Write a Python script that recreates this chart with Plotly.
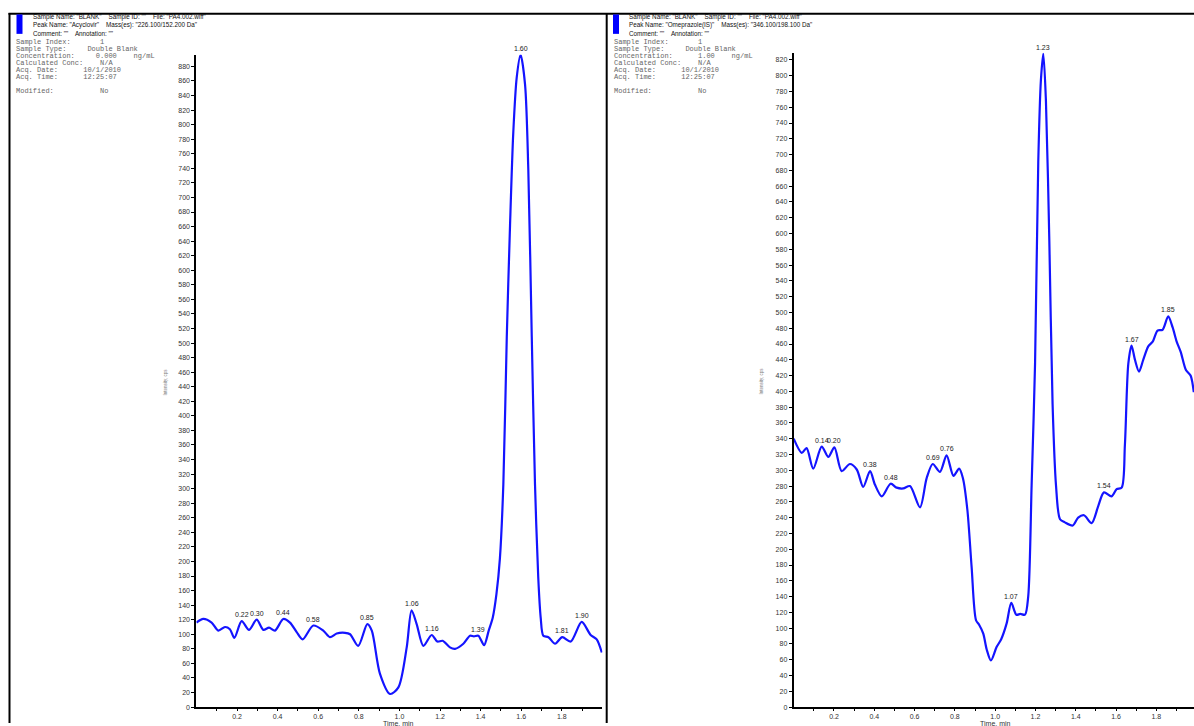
import plotly.graph_objects as go

W, H = 1194, 726

# ---------------- data ----------------
# Left panel: Acyclovir 226.100/152.200 Da
acy_time = [0.0, 0.034, 0.075, 0.108, 0.141, 0.165, 0.187, 0.223, 0.259, 0.297, 0.33, 0.358,
            0.387, 0.428, 0.461, 0.494, 0.523, 0.576, 0.625, 0.658, 0.691, 0.732, 0.757, 0.797,
            0.842, 0.864, 0.904, 0.954, 0.995, 1.036, 1.06, 1.085, 1.118, 1.159, 1.187, 1.213,
            1.249, 1.274, 1.315, 1.348, 1.367, 1.389, 1.417, 1.44, 1.46, 1.478, 1.495, 1.512,
            1.529, 1.545, 1.561, 1.578, 1.597, 1.619, 1.635, 1.652, 1.668, 1.684, 1.696, 1.709,
            1.734, 1.767, 1.802, 1.844, 1.898, 1.942, 1.972, 1.997]
acy_int = [116, 121, 116, 105, 110, 107, 95, 118, 106, 120, 106, 109,
           105, 121, 116, 103, 93, 112, 105, 96, 101, 102, 100, 84,
           114, 105, 46, 18, 27, 82, 133, 114, 84, 99, 90, 91,
           82, 80, 87, 98, 97, 98, 85, 105, 123, 155, 204, 306,
           509, 662, 789, 865, 896, 855, 738, 509, 306, 178, 123, 98,
           96, 87, 96, 90, 117, 99, 93, 75]
acy_peak_t = [0.223, 0.297, 0.428, 0.576, 0.842, 1.06, 1.159, 1.389, 1.597, 1.802, 1.898]
acy_peak_i = [118, 120, 121, 112, 114, 133, 99, 98, 896, 96, 117]
acy_peak_lbl = ["0.22", "0.30", "0.44", "0.58", "0.85", "1.06", "1.16", "1.39", "1.60", "1.81", "1.90"]

# Right panel: Omeprazole(IS) 346.100/198.100 Da
ome_time = [0.0, 0.04, 0.064, 0.097, 0.139, 0.172, 0.202, 0.238, 0.279, 0.313, 0.345, 0.379,
            0.403, 0.437, 0.481, 0.511, 0.544, 0.577, 0.627, 0.66, 0.69, 0.726, 0.759, 0.793,
            0.821, 0.84, 0.862, 0.883, 0.905, 0.921, 0.941, 0.958, 0.979, 1.007, 1.03, 1.057,
            1.08, 1.105, 1.125, 1.148, 1.164, 1.181, 1.198, 1.214, 1.227, 1.239, 1.252, 1.269,
            1.285, 1.302, 1.322, 1.346, 1.385, 1.412, 1.441, 1.479, 1.512, 1.54, 1.578, 1.603,
            1.628, 1.644, 1.661, 1.677, 1.694, 1.714, 1.735, 1.76, 1.782, 1.806, 1.831, 1.859,
            1.881, 1.901, 1.921, 1.947, 1.97, 1.986]
ome_int = [340, 322, 328, 302, 330, 317, 329, 299, 308, 301, 279, 299,
           282, 267, 283, 278, 277, 280, 253, 290, 308, 298, 319, 293,
           302, 290, 250, 178, 110, 104, 93, 73, 59, 76, 86, 106,
           132, 117, 118, 117, 140, 281, 435, 691, 794, 828, 768, 589,
           384, 281, 238, 234, 230, 240, 243, 233, 255, 272, 267, 276,
           278, 332, 435, 458, 440, 425, 440, 457, 463, 477, 478, 495,
           481, 463, 450, 427, 420, 399]
ome_peak_t = [0.139, 0.202, 0.379, 0.481, 0.69, 0.759, 1.08, 1.239, 1.54, 1.677, 1.859]
ome_peak_i = [330, 329, 299, 283, 308, 319, 132, 828, 272, 458, 495]
ome_peak_lbl = ["0.14", "0.20", "0.38", "0.48", "0.69", "0.76", "1.07", "1.23", "1.54", "1.67", "1.85"]

x_tick_vals = [0.2, 0.4, 0.6, 0.8, 1.0, 1.2, 1.4, 1.6, 1.8]
x_tick_text = ["0.2", "0.4", "0.6", "0.8", "1.0", "1.2", "1.4", "1.6", "1.8"]
x_minor_vals = [0.1, 0.3, 0.5, 0.7, 0.9, 1.1, 1.3, 1.5, 1.7, 1.9]

headers = [
    {
        "lines": ['Sample Name: "BLANK"    Sample ID: ""    File: "PA4.002.wiff"',
                  'Peak Name: "Acyclovir"    Mass(es): "226.100/152.200 Da"',
                  'Comment: ""    Annotation: ""'],
        "info": [("Sample Index:", "1", ""),
                 ("Sample Type:", "Double Blank", ""),
                 ("Concentration:", "0.000", "ng/mL"),
                 ("Calculated Conc:", "N/A", ""),
                 ("Acq. Date:", "10/1/2010", ""),
                 ("Acq. Time:", "12:25:07", ""),
                 None,
                 ("Modified:", "No", "")],
        "cols": [20, 17, 19, 20, 16, 16, None, 20],
    },
    {
        "lines": ['Sample Name: "BLANK"    Sample ID: ""    File: "PA4.002.wiff"',
                  'Peak Name: "Omeprazole(IS)"    Mass(es): "346.100/198.100 Da"',
                  'Comment: ""    Annotation: ""'],
        "info": [("Sample Index:", "1", ""),
                 ("Sample Type:", "Double Blank", ""),
                 ("Concentration:", "1.00", "ng/mL"),
                 ("Calculated Conc:", "N/A", ""),
                 ("Acq. Date:", "10/1/2010", ""),
                 ("Acq. Time:", "12:25:07", ""),
                 None,
                 ("Modified:", "No", "")],
        "cols": [20, 17, 20, 20, 16, 16, None, 20],
    },
]
UNIT_COL = 28

# ---------------- helpers (pixel layout -> paper) ----------------
def px(x):
    return x / W

def py(y):
    return 1 - y / H

BLUE = "#1414ff"
fig = go.Figure()

fig.add_trace(go.Scatter(x=acy_time, y=acy_int, mode="lines", xaxis="x", yaxis="y",
                         line=dict(color=BLUE, width=2.2, shape="spline", smoothing=0.8),
                         hoverinfo="skip", showlegend=False))
fig.add_trace(go.Scatter(x=ome_time, y=ome_int, mode="lines", xaxis="x2", yaxis="y2",
                         line=dict(color=BLUE, width=2.2, shape="spline", smoothing=0.8),
                         hoverinfo="skip", showlegend=False))

tickfont = dict(family="Liberation Sans, Arial", size=7, color="#333")
xcommon = dict(showline=True, linecolor="black", linewidth=2, ticks="outside", ticklen=2,
               tickwidth=1, tickcolor="black", tickvals=x_tick_vals, ticktext=x_tick_text,
               tickfont=tickfont, showgrid=False, zeroline=False, fixedrange=True,
               minor=dict(tickvals=x_minor_vals, ticks="outside", ticklen=2, tickwidth=1,
                          tickcolor="black", showgrid=False))
ycommon = dict(showline=True, linecolor="black", linewidth=2, ticks="outside", ticklen=3,
               tickwidth=1, tickcolor="black", dtick=20, tick0=0, tickfont=tickfont,
               showgrid=False, zeroline=False, fixedrange=True)

y_bot = py(710)
fig.update_layout(
    width=W, height=H, margin=dict(l=0, r=0, t=0, b=0),
    paper_bgcolor="white", plot_bgcolor="white",
    xaxis=dict(domain=[px(196.4), px(602.4)], range=[0, 2.0], anchor="y", **xcommon),
    yaxis=dict(domain=[y_bot, py(55)], range=[0, 896], anchor="x", **ycommon),
    xaxis2=dict(domain=[px(793.7), 1.0], range=[0, 1.987], anchor="y2", **xcommon),
    yaxis2=dict(domain=[y_bot, py(53)], range=[0, 829], anchor="x2", **ycommon),
)

ann = []
lblfont = dict(family="Liberation Sans, Arial", size=7, color="#222")
for t, v, s in zip(acy_peak_t, acy_peak_i, acy_peak_lbl):
    ann.append(dict(x=t, y=v, xref="x", yref="y", text=s, showarrow=False,
                    xanchor="center", yanchor="bottom", yshift=1, font=lblfont))
for t, v, s in zip(ome_peak_t, ome_peak_i, ome_peak_lbl):
    ann.append(dict(x=t, y=v, xref="x2", yref="y2", text=s, showarrow=False,
                    xanchor="center", yanchor="bottom", yshift=1, font=lblfont))

# axis titles
for xc, xm in [(165, 398), (761, 995)]:
    ann.append(dict(x=px(xc), y=py(383), xref="paper", yref="paper", text="Intensity, cps",
                    textangle=-90, showarrow=False,
                    font=dict(family="Liberation Sans, Arial", size=4.5, color="#777"),
                    xanchor="center", yanchor="middle"))
    ann.append(dict(x=px(xm), y=py(721), xref="paper", yref="paper", text="Time, min",
                    showarrow=False, font=dict(family="Liberation Sans, Arial", size=7, color="#333"),
                    xanchor="center", yanchor="top"))

# headers
sans = dict(family="Liberation Sans, Arial", size=6.3, color="#111")
mono = dict(family="Liberation Mono, Courier New", size=7, color="#666")
for (tx, mx), h in zip([(30.5, 13.5), (627, 611.5)], headers):
    for yy, line in zip([17, 25.5, 33.5], h["lines"]):
        ann.append(dict(x=px(tx), y=py(yy), xref="paper", yref="paper", text=line,
                        showarrow=False, xanchor="left", yanchor="middle", font=sans))
    for i, (item, col) in enumerate(zip(h["info"], h["cols"])):
        if item is None:
            continue
        lab, val, unit = item
        line = lab.ljust(col) + val
        if unit:
            line = line.ljust(UNIT_COL) + unit
        yy = 41.7 + i * 7.1
        ann.append(dict(x=px(mx), y=py(yy), xref="paper", yref="paper",
                        text=line.replace(" ", "&nbsp;"), showarrow=False,
                        xanchor="left", yanchor="middle", font=mono))
fig.update_layout(annotations=ann)

# frame lines and blue markers
shapes = [
    dict(type="line", xref="paper", yref="paper", x0=px(8.5), x1=1.0, y0=py(13.8), y1=py(13.8),
         line=dict(color="black", width=2)),
    dict(type="line", xref="paper", yref="paper", x0=px(9.5), x1=px(9.5), y0=py(13), y1=0,
         line=dict(color="black", width=2)),
    dict(type="line", xref="paper", yref="paper", x0=px(606.7), x1=px(606.7), y0=py(13), y1=0,
         line=dict(color="black", width=2)),
    dict(type="rect", xref="paper", yref="paper", x0=px(16.5), x1=px(22.5), y0=py(34), y1=py(14.5),
         fillcolor="#0000ff", line=dict(width=0)),
    dict(type="rect", xref="paper", yref="paper", x0=px(613), x1=px(619), y0=py(34), y1=py(14.5),
         fillcolor="#0000ff", line=dict(width=0)),
]
fig.update_layout(shapes=shapes)

fig.write_html("out.html")
